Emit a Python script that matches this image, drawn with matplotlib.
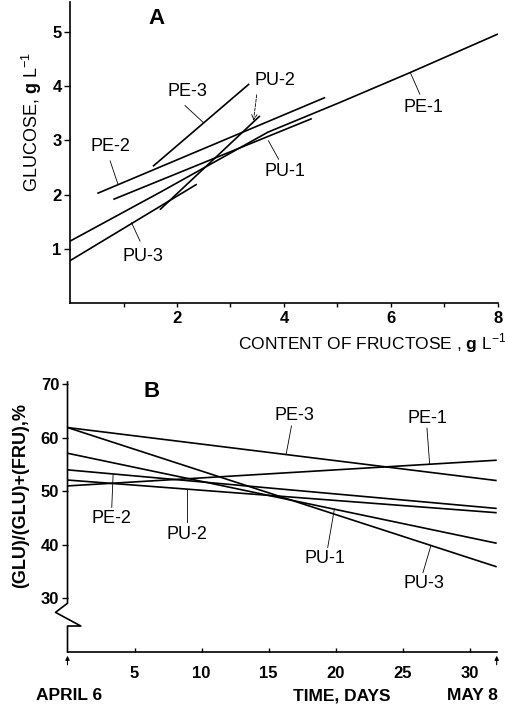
import matplotlib
matplotlib.use('Agg')
import matplotlib.pyplot as plt
import matplotlib.transforms as mtransforms

plt.rcParams['font.family'] = ['Liberation Sans', 'DejaVu Sans']
plt.rcParams['mathtext.fontset'] = 'custom'
plt.rcParams['mathtext.rm'] = 'Liberation Sans'
plt.rcParams['mathtext.bf'] = 'Liberation Sans:bold'

# panel A: glucose vs fructose content (g/L), one fitted line per sample
fru_pe1 = [0.0, 1.7, 3.7, 5.05, 6.36, 8.0]
glu_pe1 = [1.14, 2.05, 3.15, 3.70, 4.25, 4.96]
fru_pe2 = [0.51, 4.77]
glu_pe2 = [2.02, 3.79]
fru_pe3 = [1.55, 3.35]
glu_pe3 = [2.52, 4.04]
fru_pu1 = [0.81, 4.52]
glu_pu1 = [1.91, 3.40]
fru_pu2 = [1.68, 3.55]
glu_pu2 = [1.72, 3.45]
fru_pu3 = [0.0, 2.37]
glu_pu3 = [0.78, 2.19]

# panel B: glu/(glu+fru) ratio, %, April 6 (day 0) to May 8 (day 32)
days = [0, 32]
ratio_pe1 = [51.0, 55.8]
ratio_pe2 = [54.0, 46.8]
ratio_pe3 = [61.9, 52.0]
ratio_pu1 = [57.1, 40.3]
ratio_pu2 = [52.1, 46.0]
ratio_pu3 = [61.9, 35.9]

lw = 1.2
tick_font = dict(fontsize=12, fontweight='bold')
lab_size = 13

fig = plt.figure(figsize=(5.06, 7.07), dpi=100)

# ---------------- panel A ----------------
axA = fig.add_axes([70 / 506, 1 - 303 / 707, 428 / 506, 301 / 707])
for x, y in [(fru_pe1, glu_pe1), (fru_pe2, glu_pe2), (fru_pe3, glu_pe3),
             (fru_pu1, glu_pu1), (fru_pu2, glu_pu2), (fru_pu3, glu_pu3)]:
    axA.plot(x, y, color='black', lw=lw, solid_capstyle='butt')

axA.set_xlim(0, 8)
axA.set_ylim(0, 5.55)
axA.spines['top'].set_visible(False)
axA.spines['right'].set_visible(False)
for s in ['left', 'bottom']:
    axA.spines[s].set_linewidth(1.2)
axA.set_xticks(range(1, 9))
axA.set_xticklabels(['', '2', '', '4', '', '6', '', '8'], **tick_font)
axA.set_yticks(range(1, 6))
axA.set_yticklabels([str(v) for v in range(1, 6)], **tick_font)
axA.tick_params(axis='x', direction='out', length=3, width=1, pad=3)
axA.tick_params(axis='y', direction='out', length=4, width=1, pad=2)

labelsA = [('PE-1', (6.6, 3.6), (6.54, 3.85), (6.36, 4.25)),
           ('PE-2', (0.75, 2.89), (0.75, 2.62), (0.90, 2.18)),
           ('PE-3', (2.2, 3.9), (2.15, 3.64), (2.49, 3.33)),
           ('PU-1', (4.02, 2.43), (3.90, 2.65), (3.71, 2.99)),
           ('PU-3', (1.37, 0.85), (1.31, 1.14), (1.15, 1.48))]
for name, txy, p0, p1 in labelsA:
    axA.text(txy[0], txy[1], name, fontsize=lab_size, ha='center', va='center')
    axA.plot([p0[0], p1[0]], [p0[1], p1[1]], color='black', lw=0.6)
axA.text(3.83, 4.1, 'PU-2', fontsize=lab_size, ha='center', va='center')
axA.annotate('', xy=(3.43, 3.36), xytext=(3.49, 3.84),
             arrowprops=dict(arrowstyle='->', lw=0.6, linestyle='--',
                             color='black', shrinkA=0, shrinkB=0))
axA.text(1.62, 5.24, 'A', fontsize=16, fontweight='bold', ha='center', va='center')

axA.text(0.705, -0.135, r'CONTENT OF FRUCTOSE , $\mathbf{g}$ L$^{-1}$',
         transform=axA.transAxes, fontsize=12.5, ha='center', va='center')
axA.text(-0.09, 0.6, r'GLUCOSE, $\mathbf{g}$ L$^{-1}$', transform=axA.transAxes,
         fontsize=13, rotation=90, ha='center', va='center')

# ---------------- panel B ----------------
axB = fig.add_axes([67.5 / 506, 1 - 652 / 707, 429.2 / 506, 270 / 707])
for r in [ratio_pe1, ratio_pe2, ratio_pe3, ratio_pu1, ratio_pu2, ratio_pu3]:
    axB.plot(days, r, color='black', lw=lw, solid_capstyle='butt')

axB.set_xlim(0, 32)
axB.set_ylim(20, 70.4)
for s in ['top', 'right', 'left']:
    axB.spines[s].set_visible(False)
axB.spines['bottom'].set_linewidth(1.2)
axB.set_xticks(range(5, 31, 5))
axB.set_xticklabels([str(v) for v in range(5, 31, 5)], **tick_font)
axB.set_yticks(range(30, 71, 10))
axB.set_yticklabels([str(v) for v in range(30, 71, 10)], **tick_font)
axB.tick_params(axis='x', direction='in', length=3, width=1, pad=10)
axB.tick_params(axis='y', direction='out', length=4, width=1, pad=2)

# broken y axis drawn by hand
trans = mtransforms.blended_transform_factory(axB.transAxes, axB.transData)
axB.plot([0, 0, -0.028, 0.031, 0, 0], [70.4, 29.1, 27.4, 24.85, 24.85, 20],
         color='black', lw=1.2, transform=trans, clip_on=False)

labelsB = [('PE-1', (26.85, 63.6), (26.8, 61.8), (27.0, 55.1)),
           ('PE-2', (3.3, 44.9), (3.3, 47.0), (3.4, 53.1)),
           ('PE-3', (16.9, 64.2), (16.7, 62.2), (16.3, 56.9)),
           ('PU-1', (19.2, 37.5), (19.4, 39.5), (19.9, 46.7)),
           ('PU-2', (8.9, 42.0), (8.9, 44.2), (8.9, 50.5)),
           ('PU-3', (26.6, 32.8), (26.5, 34.8), (27.1, 39.9))]
for name, txy, p0, p1 in labelsB:
    axB.text(txy[0], txy[1], name, fontsize=lab_size, ha='center', va='center')
    axB.plot([p0[0], p1[0]], [p0[1], p1[1]], color='black', lw=0.6)
axB.text(6.3, 68.6, 'B', fontsize=16, fontweight='bold', ha='center', va='center')

# arrows marking start and end dates
for d in [0, 32]:
    axB.annotate('', xy=(d, 19.3), xytext=(d, 17.6), annotation_clip=False,
                 arrowprops=dict(arrowstyle='-|>', lw=0.8, color='black',
                                 mutation_scale=6, shrinkA=0, shrinkB=0))

axB.text(-0.11, 0.58, '(GLU)/(GLU)+(FRU),%', transform=axB.transAxes,
         fontsize=13, fontweight='bold', rotation=90, ha='center', va='center')

fig.text(69 / 506, 1 - 695 / 707, 'APRIL 6', fontsize=12.5, fontweight='bold',
         ha='center', va='center')
fig.text(342 / 506, 1 - 696 / 707, 'TIME, DAYS', fontsize=12.5, fontweight='bold',
         ha='center', va='center')
fig.text(472 / 506, 1 - 696 / 707, 'MAY 8', fontsize=12.5, fontweight='bold',
         ha='center', va='center')

fig.savefig('out.png', dpi=100)
